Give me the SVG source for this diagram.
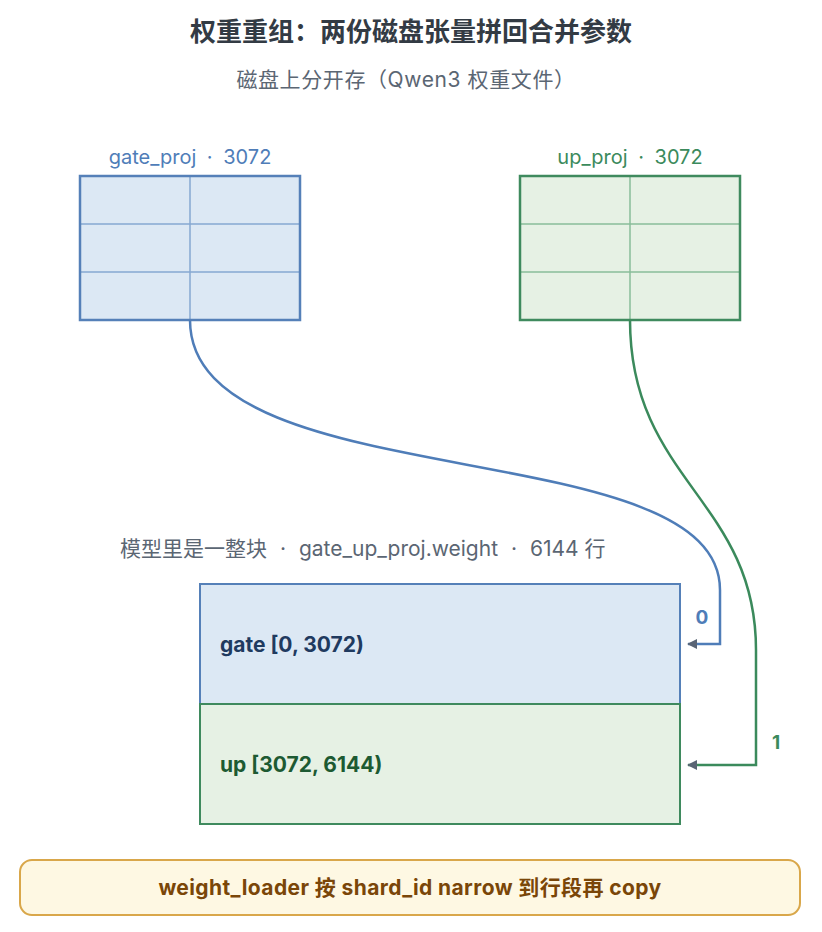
<svg xmlns="http://www.w3.org/2000/svg" width="822" height="932" viewBox="0 0 822 932">
<style>
text{font-family:Inter,"Noto Sans CJK SC",sans-serif}
.title{font-size:26px;font-weight:700;fill:#333b44}
.sub{font-size:21px;fill:#5b6673}
.lblb{font-size:20px;fill:#4f7db8}
.lblg{font-size:20px;fill:#3b8a5c}
.bfill{fill:#dce8f4}
.gfill{fill:#e6f1e4}
.bout{fill:none;stroke:#5580b8;stroke-width:2.5}
.gout{fill:none;stroke:#3f8a5e;stroke-width:2.5}
.bin{stroke:#86a9d2;stroke-width:1.5}
.gin{stroke:#88bd9a;stroke-width:1.5}
.conb{fill:none;stroke:#4f7db8;stroke-width:2.5}
.cong{fill:none;stroke:#3b8a5c;stroke-width:2.5}
.seg{font-size:21px;font-weight:700}
</style>
<defs>
<marker id="ah" viewBox="0 0 10 10" refX="9" refY="5" markerWidth="10" markerHeight="10" markerUnits="userSpaceOnUse" orient="auto">
<path d="M0,0 L10,5 L0,10 Z" fill="#5a6575"/>
</marker>
</defs>
<rect width="822" height="932" fill="#ffffff"/>
<text class="title" x="411" y="41" text-anchor="middle">权重重组：两份磁盘张量拼回合并参数</text>
<text class="sub" x="406" y="87" text-anchor="middle" letter-spacing="0.6">磁盘上分开存（Qwen3 权重文件）</text>

<g id="gate_proj">
<text class="lblb" x="190" y="164" text-anchor="middle">gate_proj <tspan dx="5">·</tspan><tspan dx="5"> 3072</tspan></text>
<rect class="bfill" x="80" y="176" width="220" height="144"/>
<line class="bin" x1="190" y1="176" x2="190" y2="320"/>
<line class="bin" x1="80" y1="224" x2="300" y2="224"/>
<line class="bin" x1="80" y1="272" x2="300" y2="272"/>
<rect class="bout" x="80" y="176" width="220" height="144"/>
</g>

<g id="up_proj">
<text class="lblg" x="630" y="164" text-anchor="middle">up_proj <tspan dx="5">·</tspan><tspan dx="5"> 3072</tspan></text>
<rect class="gfill" x="520" y="176" width="220" height="144"/>
<line class="gin" x1="630" y1="176" x2="630" y2="320"/>
<line class="gin" x1="520" y1="224" x2="740" y2="224"/>
<line class="gin" x1="520" y1="272" x2="740" y2="272"/>
<rect class="gout" x="520" y="176" width="220" height="144"/>
</g>

<text class="sub" x="120" y="556">模型里是一整块 <tspan dx="7">·</tspan><tspan dx="7"> gate_up_proj.weight </tspan><tspan dx="7">·</tspan><tspan dx="7"> 6144 行</tspan></text>

<g id="gate_up_proj">
<g id="gate_seg">
<rect x="200" y="584" width="480" height="120" fill="#dce8f4" stroke="#5580b8" stroke-width="2"/>
<text class="seg" x="220" y="652" fill="#1f3a5f">gate [0, 3072)</text>
</g>
<g id="up_seg">
<rect x="200" y="704" width="480" height="120" fill="#e6f1e4" stroke="#3f8a5e" stroke-width="2"/>
<text class="seg" x="220" y="772" fill="#1d5a32">up [3072, 6144)</text>
</g>
</g>

<g id="connectors">
<path class="conb" d="M190,320 C190,500 720,430 720,590 L720,644 L688,644" marker-end="url(#ah)"/>
<path class="cong" d="M630,320 C630,480 756,500 756,650 L756,765 L688,765" marker-end="url(#ah)"/>
<text x="702" y="624" text-anchor="middle" font-size="19" font-weight="700" fill="#4f7db8">0</text>
<text x="776" y="749" text-anchor="middle" font-size="19" font-weight="700" fill="#3b8a5c">1</text>
</g>

<g id="note">
<rect x="20" y="860" width="780" height="55" rx="12" fill="#fef8e3" stroke="#d9a74a" stroke-width="2"/>
<text x="410" y="895" text-anchor="middle" font-size="21" font-weight="700" letter-spacing="0.4" fill="#7a4608">weight_loader 按 shard_id narrow 到行段再 copy</text>
</g>
</svg>
